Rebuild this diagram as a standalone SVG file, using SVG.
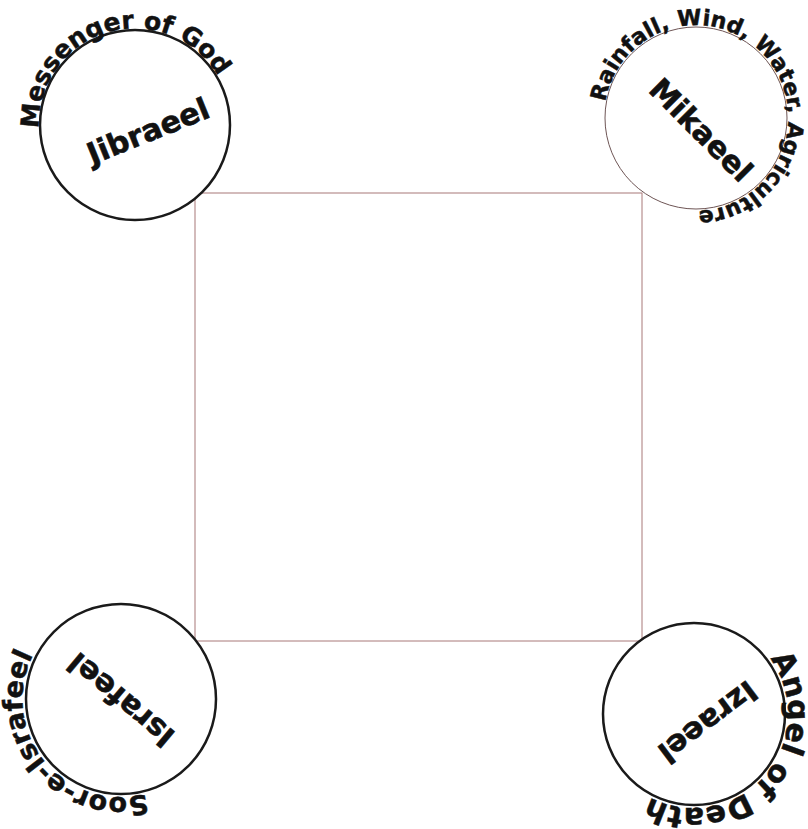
<svg xmlns="http://www.w3.org/2000/svg" width="808" height="829" viewBox="0 0 808 829">
<style>
.bg{fill:#ffffff}
.sq{fill:none;stroke:#a87878;stroke-width:1}
.ring{fill:#ffffff;stroke:#1a1a1a;stroke-width:2.5}
.ring.thin{stroke:#6e5555;stroke-width:1}
.name{font-family:"DejaVu Sans",Verdana,sans-serif;font-weight:bold;font-size:30px;fill:#111111;stroke:#111111;stroke-width:0.6;text-anchor:middle}
.arc{font-family:"DejaVu Sans",Verdana,sans-serif;font-weight:bold;fill:#111111;stroke:#111111;stroke-width:0.5}
</style>
<defs>
<path id="pJ" d="M39.06,128.35 A96,96 0 1 1 230.94,121.65 A96,96 0 1 1 39.06,128.35"/>
<path id="pM" d="M605.40,102.03 A92,92 0 1 1 786.60,133.97 A92,92 0 1 1 605.40,102.03"/>
<path id="pI" d="M146.36,793.66 A98,98 0 1 1 95.64,604.34 A98,98 0 1 1 146.36,793.66"/>
<path id="pZ" d="M770.05,658.75 A94,94 0 1 1 617.95,769.25 A94,94 0 1 1 770.05,658.75"/>
</defs>
<rect class="bg" x="0" y="0" width="808" height="829"/>
<g id="connectors">
<rect class="sq" x="195" y="193" width="447" height="448"/>
</g>
<g id="jibraeel">
<circle class="ring" cx="135" cy="125" r="95"/>
<text class="name" transform="translate(148,131) rotate(-22)" dy="0.35em">Jibraeel</text>
<text class="arc" font-size="25"><textPath href="#pJ">Messenger of God</textPath></text>
</g>
<g id="mikaeel">
<circle class="ring thin" cx="696" cy="118" r="91"/>
<text class="name" transform="translate(701,130) rotate(45)" dy="0.35em">Mikaeel</text>
<text class="arc" font-size="22"><textPath href="#pM">Rainfall, Wind, Water, Agriculture</textPath></text>
</g>
<g id="israfeel">
<circle class="ring" cx="121" cy="699" r="95"/>
<text class="name" transform="translate(121,700) rotate(220)" dy="0.35em">Israfeel</text>
<text class="arc" font-size="27"><textPath href="#pI">Soor-e-Israfeel</textPath></text>
</g>
<g id="izraeel">
<circle class="ring" cx="694" cy="714" r="91"/>
<text class="name" transform="translate(708,722) rotate(143)" dy="0.35em">Izraeel</text>
<text class="arc" font-size="30"><textPath href="#pZ">Angel of Death</textPath></text>
</g>
</svg>
